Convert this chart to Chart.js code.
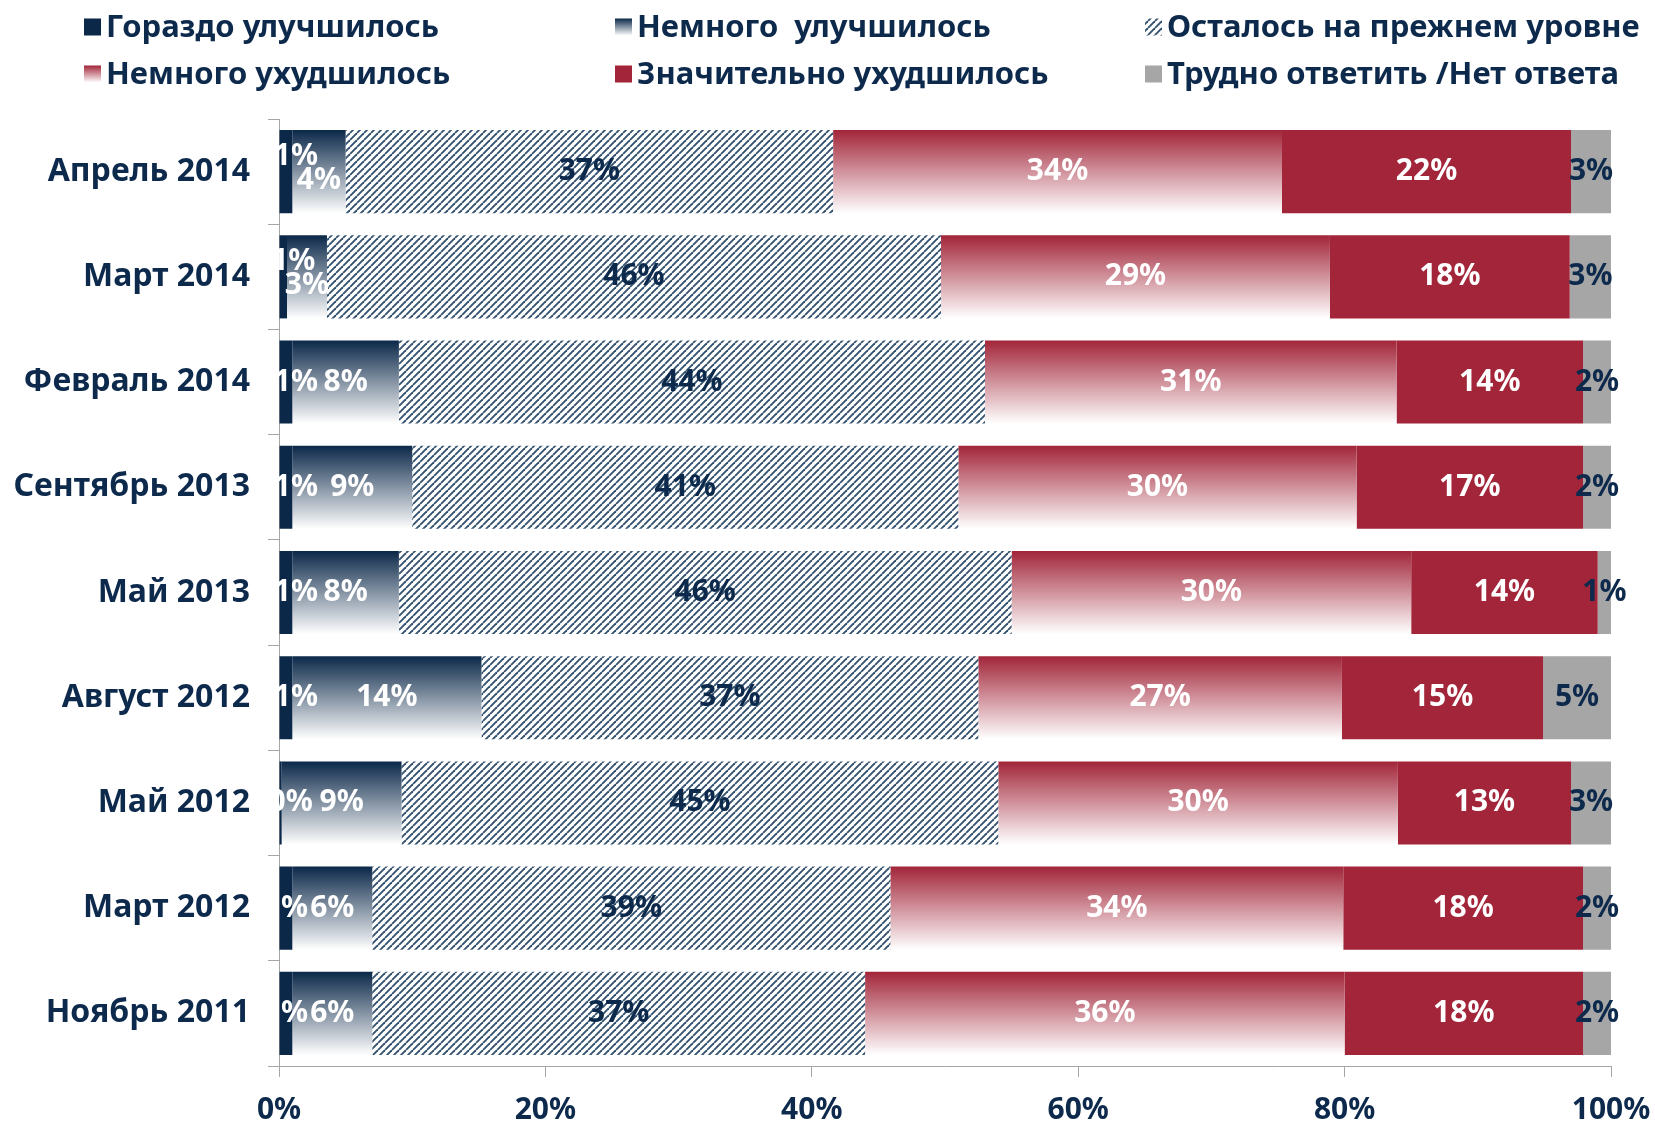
<!DOCTYPE html>
<html>
<head>
<meta charset="utf-8">
<script src="https://cdn.jsdelivr.net/npm/chart.js@4/dist/chart.umd.min.js"></script>
<style>
  html, body { margin: 0; padding: 0; background: #ffffff; }
  #wrap { width: 1655px; height: 1122px; position: relative; }
</style>
</head>
<body>
<div id="wrap"><canvas id="surveyChart"></canvas></div>
<script>
// Categories (top to bottom) and series, percent of respondents
const categories = ['Апрель 2014', 'Март 2014', 'Февраль 2014', 'Сентябрь 2013', 'Май 2013',
  'Август 2012', 'Май 2012', 'Март 2012', 'Ноябрь 2011'];
const muchBetter     = [1.0, 0.6, 1.0, 1.0, 1.0, 1.0, 0.2, 1.0, 1.0];
const slightlyBetter = [4.0, 3.0, 8.0, 9.0, 8.0, 14.2, 9.0, 6.0, 6.0];
const sameLevel      = [36.6, 46.1, 44.0, 41.0, 46.0, 37.3, 44.8, 38.9, 37.0];
const slightlyWorse  = [33.7, 29.2, 30.9, 29.9, 30.0, 27.3, 30.0, 34.0, 36.0];
const muchWorse      = [21.7, 18.0, 14.0, 17.0, 14.0, 15.1, 13.0, 18.0, 17.9];
const hardToSay      = [3.0, 3.1, 2.1, 2.1, 1.0, 5.1, 3.0, 2.1, 2.1];
const seriesNames = ['Гораздо улучшилось', 'Немного  улучшилось', 'Осталось на прежнем уровне',
  'Немного ухудшилось', 'Значительно ухудшилось', 'Трудно ответить /Нет ответа'];
const xTicks = [0, 20, 40, 60, 80, 100];

const NAVY = '#0b2849';
const CRIMSON = '#a22539';
const GREY = '#a6a6a6';
const TEXT = '#0d2a4c';
const FONT = '"Noto Sans", "DejaVu Sans", sans-serif';
const BAR_PCT = 0.79;

// diagonal hatch for the "same level" series
function makeHatch() {
  const size = 7;
  const c = document.createElement('canvas');
  c.width = size; c.height = size;
  const g = c.getContext('2d');
  g.fillStyle = '#ffffff';
  g.fillRect(0, 0, size, size);
  g.strokeStyle = '#33526f';
  g.lineWidth = 1.9;
  for (const off of [-size, 0, size]) {
    g.beginPath();
    g.moveTo(off, size);
    g.lineTo(off + size, 0);
    g.stroke();
  }
  return g.createPattern(c, 'repeat');
}
const hatch = makeHatch();

function vGradient(g, y0, y1, topColor) {
  const grad = g.createLinearGradient(0, y0, 0, y1);
  grad.addColorStop(0, topColor);
  grad.addColorStop(1, '#ffffff');
  return grad;
}

// per-bar vertical gradient, top colour fading to white
function barGradient(topColor) {
  return (ctx) => {
    const chart = ctx.chart;
    const ys = chart.scales && chart.scales.y;
    if (!chart.chartArea || !ys || ctx.dataIndex === undefined) return topColor;
    const yc = ys.getPixelForValue(ctx.dataIndex);
    const half = ys.height / categories.length * BAR_PCT / 2;
    return vGradient(chart.ctx, yc - half, yc + half, topColor);
  };
}

const labelColors = ['#ffffff', '#ffffff', TEXT, '#ffffff', '#ffffff', TEXT];

// value labels inside segments
const segmentLabels = {
  id: 'segmentLabels',
  afterDatasetsDraw(chart) {
    const g = chart.ctx;
    g.save();
    g.font = 'bold 30px ' + FONT;
    g.textAlign = 'center';
    g.textBaseline = 'middle';
    categories.forEach((cat, i) => {
      const items = chart.data.datasets.map((ds, d) => {
        const el = chart.getDatasetMeta(d).data[i];
        const text = Math.round(ds.data[i]) + '%';
        return { text, x: (el.x + el.base) / 2, y: el.y, w: g.measureText(text).width, d };
      });
      // first small label is nudged right; if that collides, try without the nudge,
      // and if it still collides keep the nudge and stagger the two labels
      const a = items[0], b = items[1];
      const clash = () => a.x + a.w / 2 > b.x - b.w / 2;
      a.x += 10;
      if (clash()) {
        a.x -= 10;
        if (clash()) { a.x += 10; a.y -= 15; b.y += 9; }
      }
      items.forEach(it => {
        g.fillStyle = labelColors[it.d];
        g.fillText(it.text, it.x, it.y);
      });
    });
    g.restore();
  }
};

// three-column legend above the plot
const gridLegend = {
  id: 'gridLegend',
  afterDraw(chart) {
    const g = chart.ctx;
    const colX = [84, 615, 1145];
    const rowY = [27, 74];
    const box = 17;
    g.save();
    g.font = 'bold 31px ' + FONT;
    g.textBaseline = 'middle';
    g.textAlign = 'left';
    chart.data.datasets.forEach((ds, d) => {
      const x = colX[d % 3], y = rowY[Math.floor(d / 3)];
      const top = y - box / 2;
      let fill = ds.legendFill;
      if (fill === 'navyGrad') fill = vGradient(g, top, top + box, NAVY);
      if (fill === 'redGrad') fill = vGradient(g, top, top + box, CRIMSON);
      g.fillStyle = fill;
      g.fillRect(x, top, box, box);
      g.fillStyle = TEXT;
      g.fillText(ds.label, x + box + 5, y + 1);
    });
    g.restore();
  }
};

const ctx = document.getElementById('surveyChart').getContext('2d');
new Chart(ctx, {
  type: 'bar',
  data: {
    labels: categories,
    datasets: [
      { label: seriesNames[0], data: muchBetter, backgroundColor: NAVY, legendFill: NAVY },
      { label: seriesNames[1], data: slightlyBetter, backgroundColor: barGradient(NAVY), legendFill: 'navyGrad' },
      { label: seriesNames[2], data: sameLevel, backgroundColor: hatch, legendFill: hatch },
      { label: seriesNames[3], data: slightlyWorse, backgroundColor: barGradient(CRIMSON), legendFill: 'redGrad' },
      { label: seriesNames[4], data: muchWorse, backgroundColor: CRIMSON, legendFill: CRIMSON },
      { label: seriesNames[5], data: hardToSay, backgroundColor: GREY, legendFill: GREY }
    ]
  },
  options: {
    indexAxis: 'y',
    responsive: true,
    maintainAspectRatio: false,
    animation: false,
    datasets: { bar: { categoryPercentage: 1, barPercentage: BAR_PCT, borderWidth: 0 } },
    layout: { padding: { top: 119, right: 44, bottom: 0, left: 0 } },
    plugins: {
      legend: { display: false },
      tooltip: { enabled: false }
    },
    scales: {
      x: {
        stacked: true,
        min: 0,
        max: 100,
        afterBuildTicks: (scale) => { scale.ticks = xTicks.map(v => ({ value: v })); },
        afterFit: (scale) => { scale.height = 56; scale.paddingLeft = 0; scale.paddingRight = 0; },
        grid: { drawOnChartArea: false, tickLength: 11, color: GREY },
        border: { display: true, color: GREY, width: 1 },
        ticks: {
          color: TEXT,
          padding: 15,
          font: { family: FONT, size: 30, weight: 'bold' },
          callback: (v) => v + '%'
        }
      },
      y: {
        stacked: true,
        afterFit: (scale) => { scale.width = 279; },
        grid: { drawOnChartArea: false, tickLength: 11, color: GREY },
        border: { display: true, color: GREY, width: 1 },
        ticks: {
          color: TEXT,
          padding: 18,
          font: { family: FONT, size: 32, weight: 'bold' }
        }
      }
    }
  },
  plugins: [segmentLabels, gridLegend]
});
</script>
</body>
</html>
